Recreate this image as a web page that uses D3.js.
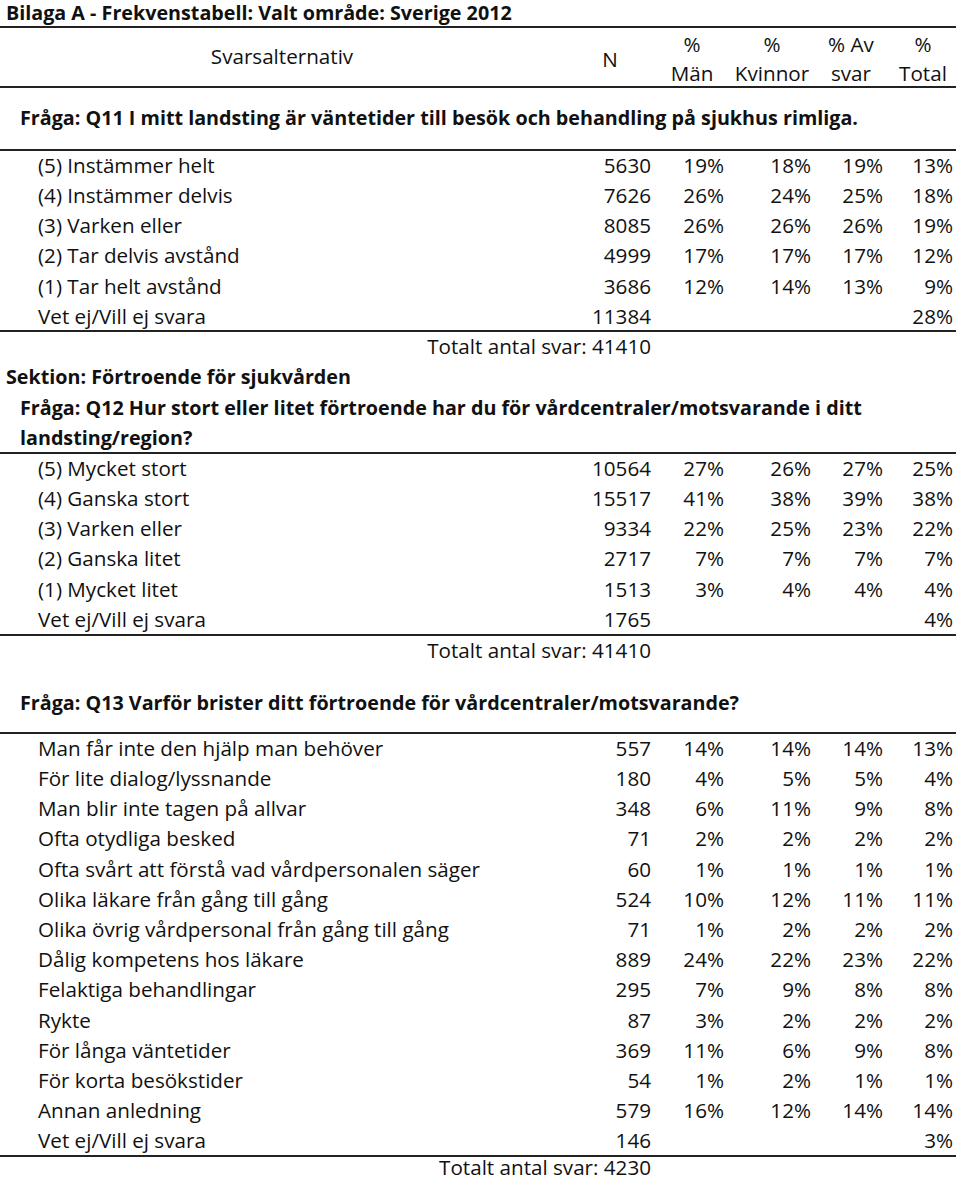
<!DOCTYPE html>
<html>
<head>
<meta charset="utf-8">
<script src="https://cdn.jsdelivr.net/npm/d3@7"></script>
<style>
  body { margin: 0; background: #fff; }
  svg text { fill: #111; }
</style>
</head>
<body>
<svg id="chart" width="960" height="1180"></svg>
<script>
// ---- data ----
const columns = ["N", "Män", "Kvinnor", "Av svar", "Total"];

const q11Labels = ["(5) Instämmer helt", "(4) Instämmer delvis", "(3) Varken eller",
  "(2) Tar delvis avstånd", "(1) Tar helt avstånd", "Vet ej/Vill ej svara"];
const q11N = [5630, 7626, 8085, 4999, 3686, 11384];
const q11Man = [19, 26, 26, 17, 12, null];
const q11Kvinnor = [18, 24, 26, 17, 14, null];
const q11Av = [19, 25, 26, 17, 13, null];
const q11Total = [13, 18, 19, 12, 9, 28];

const q12Labels = ["(5) Mycket stort", "(4) Ganska stort", "(3) Varken eller",
  "(2) Ganska litet", "(1) Mycket litet", "Vet ej/Vill ej svara"];
const q12N = [10564, 15517, 9334, 2717, 1513, 1765];
const q12Man = [27, 41, 22, 7, 3, null];
const q12Kvinnor = [26, 38, 25, 7, 4, null];
const q12Av = [27, 39, 23, 7, 4, null];
const q12Total = [25, 38, 22, 7, 4, 4];

const q13Labels = ["Man får inte den hjälp man behöver", "För lite dialog/lyssnande",
  "Man blir inte tagen på allvar", "Ofta otydliga besked",
  "Ofta svårt att förstå vad vårdpersonalen säger", "Olika läkare från gång till gång",
  "Olika övrig vårdpersonal från gång till gång", "Dålig kompetens hos läkare",
  "Felaktiga behandlingar", "Rykte", "För långa väntetider", "För korta besökstider",
  "Annan anledning", "Vet ej/Vill ej svara"];
const q13N = [557, 180, 348, 71, 60, 524, 71, 889, 295, 87, 369, 54, 579, 146];
const q13Man = [14, 4, 6, 2, 1, 10, 1, 24, 7, 3, 11, 1, 16, null];
const q13Kvinnor = [14, 5, 11, 2, 1, 12, 2, 22, 9, 2, 6, 2, 12, null];
const q13Av = [14, 5, 9, 2, 1, 11, 2, 23, 8, 2, 9, 1, 14, null];
const q13Total = [13, 4, 8, 2, 1, 11, 2, 22, 8, 2, 8, 1, 14, 3];

const title = "Bilaga A - Frekvenstabell: Valt område: Sverige 2012";
const q11Title = ["Fråga: Q11 I mitt landsting är väntetider till besök och behandling på sjukhus rimliga."];
const sectionTitle = "Sektion: Förtroende för sjukvården";
const q12Title = ["Fråga: Q12 Hur stort eller litet förtroende har du för vårdcentraler/motsvarande i ditt",
  "landsting/region?"];
const q13Title = ["Fråga: Q13 Varför brister ditt förtroende för vårdcentraler/motsvarande?"];
const totals = ["Totalt antal svar: 41410", "Totalt antal svar: 41410", "Totalt antal svar: 4230"];

// ---- layout ----
const svg = d3.select("#chart");
const FONT = "'Open Sans', 'Noto Sans', sans-serif";
const FS = 19.5;

// natural width of a string in the page font
function measure(s, bold) {
  const t = svg.append("text").attr("font-family", FONT).attr("font-size", FS)
    .attr("font-weight", bold ? 700 : 400).text(s);
  const w = t.node().getComputedTextLength();
  t.remove();
  return w;
}
// squeeze/stretch factors so the face matches the narrow original
const REG_K = 442 / measure(q13Labels[4], false);
const BOLD_K = 838 / measure(q11Title[0], true);

const colX = d3.scaleOrdinal().domain(columns).range([651, 724, 811, 883, 953]);
const rowStep = 30.2;

function txt(s, x, y, opts = {}) {
  const t = svg.append("text")
    .attr("x", x).attr("y", y).attr("dy", "0.35em")
    .attr("font-family", FONT)
    .attr("font-size", FS)
    .attr("font-weight", opts.bold ? 700 : 400)
    .attr("text-anchor", opts.anchor || "start")
    .text(s);
  const w = t.node().getComputedTextLength();
  t.attr("textLength", w * (opts.bold ? BOLD_K : REG_K))
   .attr("lengthAdjust", "spacingAndGlyphs");
  return t;
}

function rule(y) {
  svg.append("line").attr("x1", 0).attr("x2", 956)
    .attr("y1", y).attr("y2", y)
    .attr("stroke", "#222").attr("stroke-width", 2);
}

// title + header
txt(title, 6, 13, { bold: true });
rule(27);
txt("Svarsalternativ", 282, 57, { anchor: "middle" });
txt("N", 610, 60, { anchor: "middle" });
const headTop = ["%", "%", "% Av", "%"];
const headBot = ["Män", "Kvinnor", "svar", "Total"];
const headX = [692, 772, 851, 923];
headTop.forEach((h, i) => txt(h, headX[i], 45, { anchor: "middle" }));
headBot.forEach((h, i) => txt(h, headX[i], 74, { anchor: "middle" }));
rule(87);

function pct(v) { return v == null ? "" : v + "%"; }

function block(labels, nArr, man, kv, av, tot, y0) {
  const y = d3.scaleLinear().domain([0, 1]).range([y0, y0 + rowStep]);
  labels.forEach((lab, i) => {
    const yy = y(i);
    txt(lab, 38, yy);
    const vals = [String(nArr[i]), pct(man[i]), pct(kv[i]), pct(av[i]), pct(tot[i])];
    vals.forEach((v, j) => { if (v) txt(v, colX(columns[j]), yy, { anchor: "end" }); });
  });
}

// Q11
q11Title.forEach((s, i) => txt(s, 20, 118 + i * 30, { bold: true }));
rule(150);
block(q11Labels, q11N, q11Man, q11Kvinnor, q11Av, q11Total, 166);
rule(331);
txt(totals[0], 651, 347, { anchor: "end" });

// Q12
txt(sectionTitle, 6, 377, { bold: true });
q12Title.forEach((s, i) => txt(s, 20, 408 + i * 30, { bold: true }));
rule(453);
block(q12Labels, q12N, q12Man, q12Kvinnor, q12Av, q12Total, 469);
rule(635);
txt(totals[1], 651, 651, { anchor: "end" });

// Q13
q13Title.forEach((s, i) => txt(s, 20, 703 + i * 30, { bold: true }));
rule(733);
block(q13Labels, q13N, q13Man, q13Kvinnor, q13Av, q13Total, 749);
rule(1156);
txt(totals[2], 651, 1168, { anchor: "end" });
</script>
</body>
</html>
